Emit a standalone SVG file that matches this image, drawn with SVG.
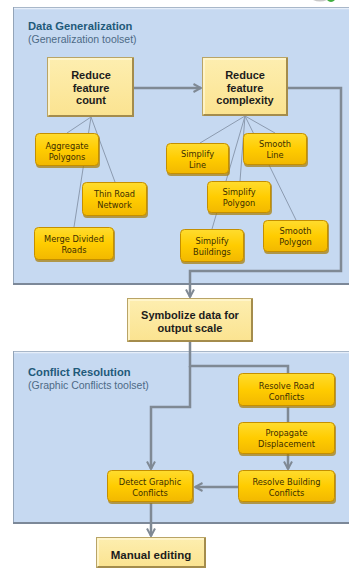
<svg xmlns="http://www.w3.org/2000/svg" width="349" height="568" viewBox="0 0 349 568">
<defs>
<linearGradient id="gy" x1="0" y1="0" x2="0" y2="1">
<stop offset="0" stop-color="#ffdc2e"/>
<stop offset="0.5" stop-color="#ffcc00"/>
<stop offset="1" stop-color="#f2b800"/>
</linearGradient>
<linearGradient id="lb" x1="0" y1="0" x2="0" y2="1">
<stop offset="0" stop-color="#fdeeb0"/>
<stop offset="1" stop-color="#fbe390"/>
</linearGradient>
<marker id="ar" viewBox="0 0 10 10" refX="9" refY="5" markerWidth="10" markerHeight="10" markerUnits="userSpaceOnUse" orient="auto">
<path d="M1.5,1 L9,5 L1.5,9" fill="none" stroke="#7f8994" stroke-width="2"/>
</marker>
</defs>
<style>
.panel{fill:#c6d9f1;stroke:#93a4b8;stroke-width:1}
.ttl{font-family:"Liberation Sans",Arial,sans-serif;font-weight:bold;font-size:11.2px;fill:#1f5a7a}
.sub{font-family:"Liberation Sans",Arial,sans-serif;font-size:10.5px;fill:#4d6a86}
.big{fill:url(#lb);stroke:#b9a466;stroke-width:1}
.hl{fill:none;stroke:#fff7d4;stroke-width:1.5}
.sh{fill:none;stroke:#a48c4c;stroke-width:2}
.bt{font-family:"Liberation Sans",Arial,sans-serif;font-weight:bold;font-size:11px;fill:#1c1c1c;text-anchor:middle}
.sm{fill:url(#gy);stroke:#c48f00;stroke-width:1}
.smsh{fill:#a67a00;opacity:0.7}
.st{font-family:"DejaVu Sans Condensed","DejaVu Sans",sans-serif;font-stretch:condensed;font-size:9.2px;fill:#3d2e00;text-anchor:middle}
.con{fill:none;stroke:#7f8994;stroke-width:2.5}
.tree{fill:none;stroke:#8c9bb0;stroke-width:1}
</style>
<rect width="349" height="568" fill="#ffffff"/>
<path d="M313,0 Q320,3 327,0 Z" fill="#c8c8c8"/>
<path d="M327,0 Q331,4 335,0 Z" fill="#3fae3f"/>

<g id="panel-generalization">
<rect class="panel" x="13.5" y="7.5" width="345" height="277"/>
<line x1="14" y1="8.5" x2="349" y2="8.5" stroke="#e6eef9" stroke-width="1.5"/>
<line x1="13" y1="284" x2="349" y2="284" stroke="#7c8898" stroke-width="2"/>
<text class="ttl" x="28" y="30">Data Generalization</text>
<text class="sub" x="28" y="43">(Generalization toolset)</text>
</g>
<g id="panel-conflict">
<rect class="panel" x="13.5" y="351.5" width="345" height="172"/>
<line x1="14" y1="352.5" x2="349" y2="352.5" stroke="#e6eef9" stroke-width="1.5"/>
<line x1="13" y1="523" x2="349" y2="523" stroke="#7c8898" stroke-width="2"/>
<text class="ttl" x="28" y="376">Conflict Resolution</text>
<text class="sub" x="28" y="389">(Graphic Conflicts toolset)</text>
</g>

<g id="connectors">
<path class="tree" d="M91,117 L67,133 M91,117 L115,182 M91,117 L74,227"/>
<path class="tree" d="M245,116 L200,143 M245,116 L240,181 M245,116 L212,229 M245,116 L275,133 M245,116 L296,220"/>
<path class="con" d="M134,88 H201" marker-end="url(#ar)"/>
<path class="con" d="M288,88 H341 V271 H190 V297" marker-end="url(#ar)"/>
<path class="con" d="M190,342 V366 H288 V373"/>
<path class="con" d="M190,366 V407 H151 V469" marker-end="url(#ar)"/>
<path class="con" d="M288,407 V422"/>
<path class="con" d="M288,454 V469" marker-end="url(#ar)"/>
<path class="con" d="M238,487 H195" marker-end="url(#ar)"/>
<path class="con" d="M151,503 V536" marker-end="url(#ar)"/>
</g>

<g id="reduce-count">
<rect class="big" x="47.5" y="57.5" width="86" height="59"/>
<path class="hl" d="M49,115 V59 H132"/>
<path class="sh" d="M48.5,116 H133 V58"/>
<text class="bt" x="91" y="79">Reduce</text>
<text class="bt" x="91" y="92">feature</text>
<text class="bt" x="91" y="104">count</text>
</g>
<g id="reduce-complexity">
<rect class="big" x="202.5" y="57.5" width="85" height="58"/>
<path class="hl" d="M204,114 V59 H286"/>
<path class="sh" d="M203.5,115 H287 V58"/>
<text class="bt" x="245" y="79">Reduce</text>
<text class="bt" x="245" y="92">feature</text>
<text class="bt" x="245" y="104">complexity</text>
</g>

<g id="aggregate-polygons">
<rect class="smsh" x="36" y="135" width="64" height="33" rx="4"/>
<rect class="sm" x="35.5" y="133.5" width="63" height="32" rx="4"/>
<text class="st" x="67" y="149">Aggregate</text>
<text class="st" x="67" y="160">Polygons</text>
</g>
<g id="thin-road">
<rect class="smsh" x="83" y="184" width="65" height="34" rx="4"/>
<rect class="sm" x="82.5" y="182.5" width="64" height="33" rx="4"/>
<text class="st" x="114.5" y="197">Thin Road</text>
<text class="st" x="114.5" y="208">Network</text>
</g>
<g id="merge-divided">
<rect class="smsh" x="35" y="229" width="80" height="33" rx="4"/>
<rect class="sm" x="34.5" y="227.5" width="79" height="32" rx="4"/>
<text class="st" x="74" y="242">Merge Divided</text>
<text class="st" x="74" y="253">Roads</text>
</g>
<g id="simplify-line">
<rect class="smsh" x="167" y="145" width="63" height="31" rx="4"/>
<rect class="sm" x="166.5" y="143.5" width="62" height="30" rx="4"/>
<text class="st" x="197.5" y="157">Simplify</text>
<text class="st" x="197.5" y="168">Line</text>
</g>
<g id="smooth-line">
<rect class="smsh" x="244" y="135" width="64" height="32" rx="4"/>
<rect class="sm" x="243.5" y="133.5" width="63" height="31" rx="4"/>
<text class="st" x="275" y="147">Smooth</text>
<text class="st" x="275" y="158">Line</text>
</g>
<g id="simplify-polygon">
<rect class="smsh" x="208" y="183" width="64" height="32" rx="4"/>
<rect class="sm" x="207.5" y="181.5" width="63" height="31" rx="4"/>
<text class="st" x="239" y="195">Simplify</text>
<text class="st" x="239" y="206">Polygon</text>
</g>
<g id="simplify-buildings">
<rect class="smsh" x="181" y="231" width="64" height="33" rx="4"/>
<rect class="sm" x="180.5" y="229.5" width="63" height="32" rx="4"/>
<text class="st" x="212" y="244">Simplify</text>
<text class="st" x="212" y="255">Buildings</text>
</g>
<g id="smooth-polygon">
<rect class="smsh" x="264" y="222" width="65" height="32" rx="4"/>
<rect class="sm" x="263.5" y="220.5" width="64" height="31" rx="4"/>
<text class="st" x="295.5" y="234">Smooth</text>
<text class="st" x="295.5" y="245">Polygon</text>
</g>

<g id="symbolize">
<rect class="big" x="127.5" y="298.5" width="125" height="43"/>
<path class="hl" d="M129,340 V300 H251"/>
<path class="sh" d="M128.5,341 H252 V299"/>
<text class="bt" x="190" y="319">Symbolize data for</text>
<text class="bt" x="190" y="332">output scale</text>
</g>

<g id="resolve-road">
<rect class="smsh" x="239" y="375" width="97" height="33" rx="4"/>
<rect class="sm" x="238.5" y="373.5" width="96" height="32" rx="4"/>
<text class="st" x="286.5" y="389">Resolve Road</text>
<text class="st" x="286.5" y="400">Conflicts</text>
</g>
<g id="propagate">
<rect class="smsh" x="239" y="424" width="97" height="32" rx="4"/>
<rect class="sm" x="238.5" y="422.5" width="96" height="31" rx="4"/>
<text class="st" x="286.5" y="436">Propagate</text>
<text class="st" x="286.5" y="447">Displacement</text>
</g>
<g id="resolve-building">
<rect class="smsh" x="239" y="472" width="97" height="32" rx="4"/>
<rect class="sm" x="238.5" y="470.5" width="96" height="31" rx="4"/>
<text class="st" x="286.5" y="485">Resolve Building</text>
<text class="st" x="286.5" y="496">Conflicts</text>
</g>
<g id="detect-graphic">
<rect class="smsh" x="108" y="472" width="86" height="32" rx="4"/>
<rect class="sm" x="107.5" y="470.5" width="85" height="31" rx="4"/>
<text class="st" x="150" y="485">Detect Graphic</text>
<text class="st" x="150" y="496">Conflicts</text>
</g>

<g id="manual-editing">
<rect class="big" x="96.5" y="537.5" width="109" height="30"/>
<path class="hl" d="M98,567 V539 H204"/>
<path class="sh" d="M97.5,567 H205 V538"/>
<text class="bt" x="151" y="559" style="font-size:11.5px">Manual editing</text>
</g>
</svg>
